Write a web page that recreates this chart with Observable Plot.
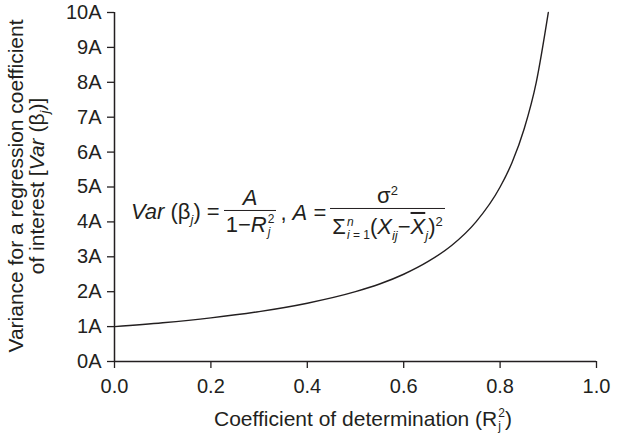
<!DOCTYPE html>
<html>
<head>
<meta charset="utf-8">
<script src="https://cdn.jsdelivr.net/npm/d3@7"></script>
<script src="https://cdn.jsdelivr.net/npm/@observablehq/plot@0.6"></script>
<style>
  html, body { margin: 0; padding: 0; background: #fff; }
  #wrap { position: relative; width: 626px; height: 437px; font-family: "Liberation Sans", Arial, sans-serif; color: #231f20; }
  #wrap svg { font-family: "Liberation Sans", Arial, sans-serif; }
  .abs { position: absolute; white-space: nowrap; }
  #ytitle { left: 30px; top: 186px; transform: translate(-50%, -50%) rotate(-90deg); text-align: center; font-size: 21px; line-height: 21px; }
  #xtitle { left: 363px; top: 407px; transform: translateX(-50%); font-size: 21px; line-height: 22px; }
  .ss { display: inline-flex; flex-direction: column; vertical-align: middle; font-size: 12px; line-height: 13px; margin-left: 1px; }
  #eq { left: 131px; top: 213px; transform: translateY(-50%); font-size: 22px; display: flex; align-items: center; }
  .frac { display: inline-flex; flex-direction: column; align-items: center; margin: 0 4px; }
  .frac .num { padding: 0 2px 2px 2px; line-height: 21px; }
  .frac .den { border-top: 1.4px solid #231f20; padding: 2px 2px 0 2px; line-height: 21px; }
  i { font-style: italic; }
  sup, sub { font-size: 13px; }
  .over { text-decoration: overline; }
</style>
</head>
<body>
<div id="wrap"></div>
<script>
// Coefficient of determination R_j^2 (x) and variance in units of A (y)
const r2 = [0.0, 0.1, 0.2, 0.3, 0.4, 0.5, 0.55, 0.6, 0.65, 0.7, 0.75, 0.8, 0.825, 0.85, 0.875, 0.9];
const variance = [1.0, 1.11, 1.25, 1.43, 1.67, 2.0, 2.22, 2.5, 2.86, 3.33, 4.0, 5.0, 5.71, 6.67, 8.0, 10.0];
const xTicks = [0, 0.2, 0.4, 0.6, 0.8, 1.0];
const yTicks = [0, 1, 2, 3, 4, 5, 6, 7, 8, 9, 10];
const yTickLabels = ["0A", "1A", "2A", "3A", "4A", "5A", "6A", "7A", "8A", "9A", "10A"];

const data = r2.map((x, i) => ({x, y: variance[i]}));
const ink = "#231f20";

const chart = Plot.plot({
  width: 626,
  height: 437,
  marginLeft: 114,
  marginRight: 30,
  marginTop: 12,
  marginBottom: 76,
  style: {fontSize: "20px", color: ink, background: "#fff"},
  x: {domain: [0, 1]},
  y: {domain: [0, 10]},
  marks: [
    Plot.axisX({ticks: xTicks, tickFormat: d3.format(".1f"), tickSize: 7, tickPadding: 10, label: null, stroke: ink, strokeWidth: 1.3, fill: ink, fontSize: 20}),
    Plot.axisY({ticks: yTicks, tickFormat: d => yTickLabels[yTicks.indexOf(d)], tickSize: 7, tickPadding: 6, label: null, stroke: ink, strokeWidth: 1.3, fill: ink, fontSize: 20}),
    Plot.ruleY([0], {stroke: ink, strokeWidth: 1.5}),
    Plot.ruleX([0], {stroke: ink, strokeWidth: 1.5}),
    Plot.line(data, {x: "x", y: "y", curve: "monotone-x", stroke: ink, strokeWidth: 1.4})
  ]
});

const wrap = document.getElementById("wrap");
wrap.appendChild(chart);

const ytitle = document.createElement("div");
ytitle.className = "abs";
ytitle.id = "ytitle";
ytitle.innerHTML = 'Variance for a regression coefficient<br>of interest [<i>Var</i> (β<sub><i>j</i></sub>)]';
wrap.appendChild(ytitle);

const xtitle = document.createElement("div");
xtitle.className = "abs";
xtitle.id = "xtitle";
xtitle.innerHTML = 'Coefficient of determination (R<span class="ss"><span>2</span><span>j</span></span>)';
wrap.appendChild(xtitle);

const eq = document.createElement("div");
eq.className = "abs";
eq.id = "eq";
eq.innerHTML =
  '<span><i>Var</i> (β<sub><i>j</i></sub>) =</span>' +
  '<span class="frac"><span class="num"><i>A</i></span><span class="den">1−<i>R</i><span class="ss"><span>2</span><span><i>j</i></span></span></span></span>' +
  '<span>, <i>A</i> =</span>' +
  '<span class="frac"><span class="num">σ<sup>2</sup></span><span class="den">Σ<span class="ss"><span><i>n</i></span><span><i>i</i> = 1</span></span>(<i>X</i><sub><i>ij</i></sub>−<i class="over">X</i><sub><i>j</i></sub>)<sup>2</sup></span></span>';
wrap.appendChild(eq);
</script>
</body>
</html>
